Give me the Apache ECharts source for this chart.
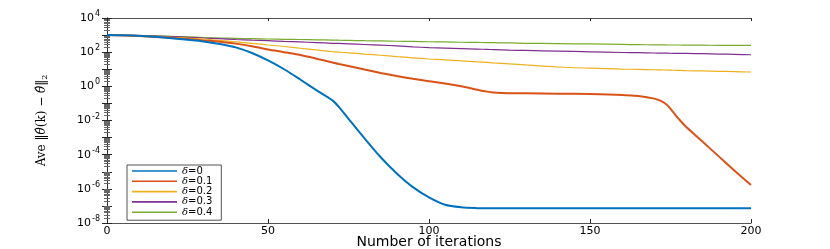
<!DOCTYPE html>
<html>
<head>
<meta charset="utf-8">
<script src="https://cdn.jsdelivr.net/npm/echarts@6/dist/echarts.min.js"></script>
<style>
html,body{margin:0;padding:0;background:#fff;}
#chart{width:830px;height:249px;}
</style>
</head>
<body>
<div id="chart"></div>
<script>
// iteration numbers at which values were read
const iterations = [0,5,10,15,20,25,30,35,40,45,50,55,60,65,70,72,75,80,85,90,95,100,105,110,115,118,120,125,130,140,150,160,165,170,172,174,176,178,180,185,190,195,200];

const seriesNames = ['δ=0','δ=0.1','δ=0.2','δ=0.3','δ=0.4'];

const delta0 = [1000,977,912,794,661,537,427,302,191,89.1,33.1,10.0,2.51,0.603,0.151,0.0631,0.0126,8.91e-4,7.08e-5,7.94e-6,1.26e-6,3.16e-7,1.17e-7,8.32e-8,7.41e-8,7.24e-8,7.24e-8,7.24e-8,7.24e-8,7.24e-8,7.24e-8,7.24e-8,7.24e-8,7.24e-8,7.24e-8,7.24e-8,7.24e-8,7.24e-8,7.24e-8,7.24e-8,7.24e-8,7.24e-8,7.24e-8];

const delta01 = [1000,933,871,776,692,589,490,407,316,224,145,100,67.6,41.7,25.1,20.4,15.5,9.55,6.03,3.98,2.75,2.0,1.48,1.0,0.631,0.490,0.437,0.398,0.389,0.372,0.355,0.316,0.269,0.191,0.141,0.0794,0.0282,0.01,3.98e-3,5.62e-4,7.94e-5,1.12e-5,1.66e-6];

const delta02 = [1000,955,891,813,741,661,589,490,398,324,263,214,170,135,107,100,91.2,77.6,66.1,55.0,46.8,39.8,35.5,30.9,26.9,25.1,23.4,20.9,17.8,13.5,11.5,10.2,9.77,9.33,9.12,8.91,8.71,8.51,8.32,7.94,7.59,7.24,6.92];

const delta03 = [1000,977,933,871,813,741,676,617,550,501,468,427,398,363,331,324,309,282,257,234,204,186,174,162,151,145,141,132,126,115,105,95.5,93.3,89.1,88.1,87.1,86.1,85.1,84.1,81.3,77.6,74.1,70.8];

const delta04 = [1000,977,933,891,832,776,724,676,646,617,589,562,550,525,513,501,490,468,457,437,427,407,398,380,372,363,363,347,331,316,302,282,275,269,269,263,263,263,257,257,251,251,251];

const xTicks = [0,50,100,150,200];
const yTickExponents = [-8,-6,-4,-2,0,2,4];

const colors = ['#0072BD','#D95319','#EDB120','#7E2F8E','#77AC30'];
const widths = [2,2,1.2,1.2,1.2];
const allData = [delta0, delta01, delta02, delta03, delta04];

const chart = echarts.init(document.getElementById('chart'), null, {renderer:'canvas'});

const axisColor = '#262626';
const tickFont = 'DejaVu Sans';

const series = allData.map((d, i) => ({
  name: seriesNames[i],
  type: 'line',
  data: iterations.map((x, k) => [x, d[k]]),
  showSymbol: false,
  symbol: 'none',
  smooth: 0.25,
  lineStyle: {color: colors[i], width: widths[i]},
  itemStyle: {color: colors[i]},
  z: 10 - i
}));

const logLabel = v => {
  const e = Math.round(Math.log10(v));
  return yTickExponents.includes(e) ? '{b|10}{s|' + (e < 0 ? '-' + (-e) : e) + '}' : '';
};

const option = {
  animation: false,
  backgroundColor: '#ffffff',
  grid: {left: 107, right: 79, top: 18, bottom: 26, containLabel: false, outerBoundsMode: 'none'},
  legend: {
    data: seriesNames.map((n, i) => ({name: n, icon: 'rect', itemStyle: {color: colors[i]}})),
    orient: 'vertical',
    left: 127, top: 165,
    padding: [1, 9, 3, 5],
    itemWidth: 45, itemHeight: 1.6, itemGap: 0.3,
    backgroundColor: '#ffffff',
    borderColor: axisColor, borderWidth: 0.8, borderRadius: 0,
    formatter: n => '{i|δ}{t|' + n.slice(1) + '}',
    textStyle: {fontFamily: 'DejaVu Sans', fontSize: 10, color: '#000', lineHeight: 9,
      rich: {i: {fontFamily: 'DejaVu Serif', fontStyle: 'italic', fontSize: 10, lineHeight: 9},
             t: {fontFamily: 'DejaVu Sans', fontSize: 10, lineHeight: 9}}}
  },
  xAxis: [{
    type: 'value', min: 0, max: 200, interval: 50,
    position: 'bottom',
    name: 'Number of iterations', nameLocation: 'middle', nameGap: 12,
    nameMoveOverlap: false,
    nameTextStyle: {fontFamily: tickFont, fontSize: 14, color: '#000'},
    axisLine: {show: true, lineStyle: {color: axisColor, width: 0.8}},
    axisTick: {show: true, inside: true, length: 4, lineStyle: {color: axisColor}},
    axisLabel: {fontFamily: tickFont, fontSize: 11, color: '#000', margin: 3,
      formatter: v => xTicks.includes(v) ? String(v) : ''},
    splitLine: {show: false}
  }, {
    type: 'value', min: 0, max: 200, interval: 50,
    position: 'top',
    axisLine: {show: true, lineStyle: {color: axisColor, width: 0.8}},
    axisTick: {show: true, inside: true, length: 3, lineStyle: {color: axisColor}},
    axisLabel: {show: false},
    splitLine: {show: false}
  }],
  yAxis: [{
    type: 'log', logBase: 10, min: 1e-8, max: 1e4, interval: 1,
    position: 'left',
    name: 'Ave ‖{i|θ̂}(k) − {i|θ̂}‖{sub|2}', nameLocation: 'middle', nameGap: 58,
    nameMoveOverlap: false,
    nameTextStyle: {fontFamily: 'DejaVu Serif', fontSize: 12, color: '#000',
      rich: {i: {fontFamily: 'DejaVu Serif', fontStyle: 'italic', fontSize: 12},
             sub: {fontFamily: 'DejaVu Serif', fontSize: 8, padding: [6,0,0,0]}}},
    axisLine: {show: true, lineStyle: {color: axisColor, width: 0.8}},
    axisTick: {show: true, inside: true, length: 5, lineStyle: {color: axisColor}},
    minorTick: {show: true, splitNumber: 9, length: 3, lineStyle: {color: '#666'}},
    axisLabel: {fontFamily: tickFont, fontSize: 11, color: '#000', margin: 7,
      formatter: logLabel,
      rich: {b: {fontFamily: tickFont, fontSize: 11, color: '#000'},
             s: {fontFamily: tickFont, fontSize: 8, color: '#000', padding: [0,0,8,1]}}},
    splitLine: {show: false}
  }, {
    type: 'log', logBase: 10, min: 1e-8, max: 1e4, interval: 1,
    position: 'right',
    axisLine: {show: true, lineStyle: {color: axisColor, width: 0.8}},
    axisTick: {show: true, inside: true, length: 5, lineStyle: {color: axisColor}},
    minorTick: {show: true, splitNumber: 9, length: 3, lineStyle: {color: '#666'}},
    axisLabel: {show: false},
    splitLine: {show: false}
  }],
  series: series
};
chart.setOption(option);
</script>
</body>
</html>
